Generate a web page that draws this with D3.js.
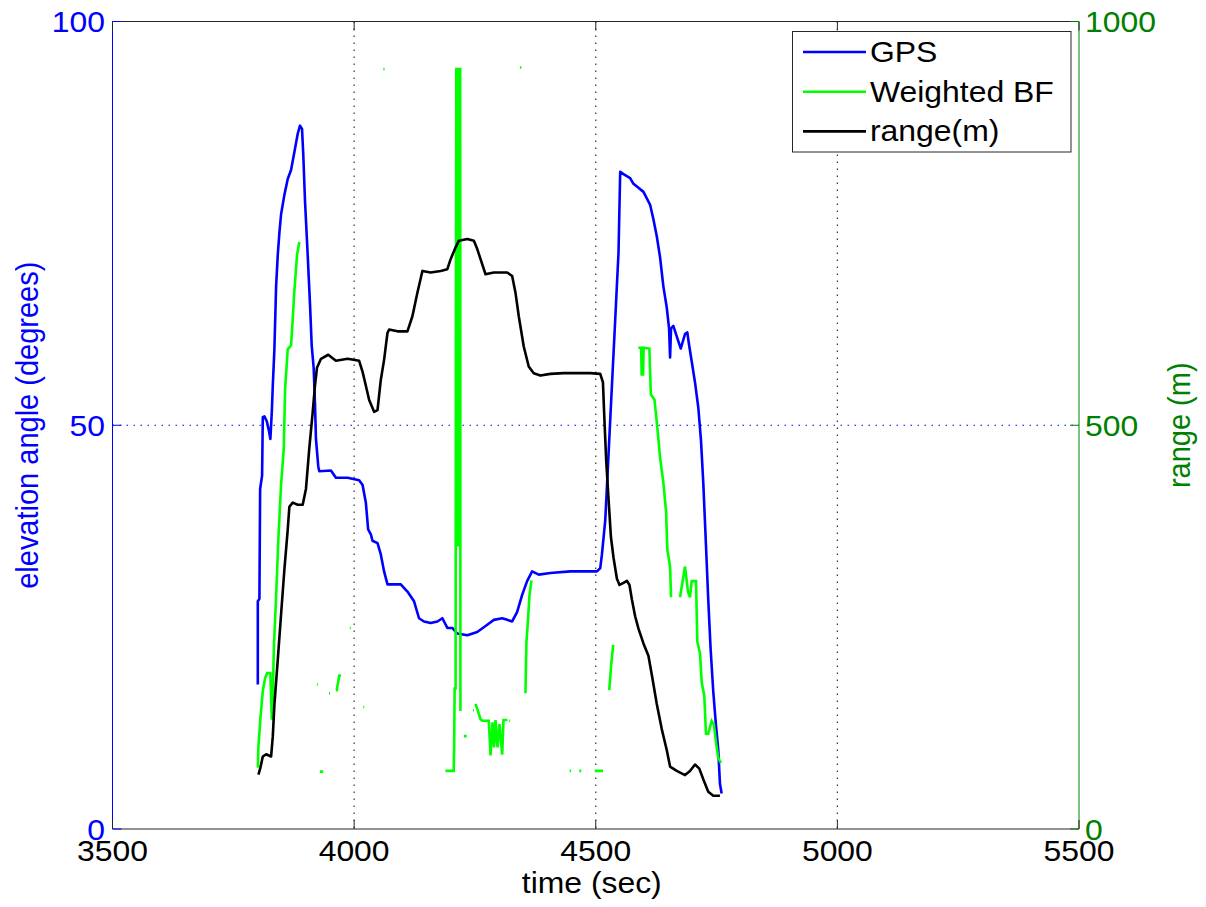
<!DOCTYPE html>
<html>
<head>
<meta charset="utf-8">
<script src="https://cdn.jsdelivr.net/npm/d3@7"></script>
<style>
  html, body { margin: 0; padding: 0; background: #fff; }
  svg { display: block; }
  text { font-family: "Liberation Sans", Arial, sans-serif; }
</style>
</head>
<body>
<svg id="chart" width="1206" height="907"></svg>
<script>
// ---------------- DATA ----------------
const xTicks = [3500, 4000, 4500, 5000, 5500];
const leftTicks = [0, 50, 100];
const rightTicks = [0, 500, 1000];
const xGrid = [4000, 4500, 5000];
const leftGrid = [50];

// GPS elevation (degrees)
const gpsTime = [3800.7, 3800.7, 3804, 3805.5, 3809.6, 3811, 3814.3, 3819.3, 3823.4, 3826.7, 3829.6, 3831.7, 3835, 3838.5, 3842, 3845.3, 3848.8, 3855.6, 3862.6, 3869.5, 3876.3, 3883.3, 3888, 3892.2, 3894.8, 3898.4, 3903.9, 3908.7, 3912.2, 3916.3, 3919, 3921, 3925.8, 3927.9, 3952, 3962.3, 3986.5, 4010.4, 4017.5, 4024.3, 4029, 4034.6, 4038, 4048.4, 4055.2, 4062, 4069, 4082.7, 4096.5, 4110.3, 4124, 4134.3, 4144.6, 4158.4, 4172.3, 4182.6, 4192.9, 4203.2, 4213.5, 4234.2, 4254.8, 4275.5, 4289.1, 4306.4, 4316.7, 4327, 4337.4, 4347.7, 4358, 4368.3, 4382, 4406.1, 4447.4, 4481.9, 4502.5, 4509.3, 4512.8, 4519.6, 4523.1, 4529.9, 4540.3, 4547.1, 4550.6, 4557.4, 4571.2, 4578, 4588.4, 4598.7, 4605.7, 4612.5, 4619.3, 4626.3, 4633.1, 4639.9, 4646.9, 4651.7, 4653.8, 4655.8, 4660.6, 4667.6, 4675.9, 4684.7, 4689.5, 4693, 4698.6, 4705.4, 4712.2, 4717.8, 4722.5, 4728.1, 4732.8, 4737.8, 4743.2, 4748.7, 4753.5, 4757, 4760.5];
const gpsElev = [17.9, 28.2, 28.5, 42.1, 43.8, 51.0, 51.1, 50.5, 49.4, 48.3, 51.6, 54.9, 59.4, 67.1, 71.1, 73.8, 76.1, 78.5, 80.5, 81.6, 83.8, 86.1, 87.1, 86.7, 83.5, 77.7, 71.1, 65.0, 59.9, 57.1, 52.7, 48.3, 44.9, 44.3, 44.4, 43.5, 43.5, 43.2, 42.6, 40.4, 37.1, 36.5, 35.7, 35.4, 34.0, 31.9, 30.3, 30.3, 30.3, 29.4, 28.2, 26.1, 25.7, 25.5, 25.7, 26.1, 24.9, 24.9, 24.2, 24.0, 24.4, 25.3, 25.9, 26.1, 25.9, 25.7, 26.9, 29.0, 30.7, 31.9, 31.5, 31.7, 31.9, 31.9, 31.9, 32.3, 34.0, 38.2, 42.3, 50.6, 63.1, 71.4, 81.4, 81.1, 80.6, 79.9, 79.4, 78.9, 78.1, 77.3, 75.5, 73.4, 70.8, 67.2, 64.6, 62.0, 58.4, 62.0, 62.3, 61.0, 59.5, 61.3, 61.5, 60.0, 57.9, 55.3, 52.2, 48.1, 42.9, 35.1, 28.4, 22.2, 17.0, 12.9, 9.8, 5.6, 4.4];

// range (m)
const rangeTime = [3802, 3806.1, 3811, 3817.9, 3828.2, 3831.7, 3835, 3842, 3848.8, 3855.6, 3862.6, 3866, 3873, 3883.3, 3893.6, 3900.4, 3907.2, 3914.2, 3919, 3923.1, 3931.4, 3946.4, 3962.3, 3986.5, 4010.4, 4017.5, 4024.3, 4031.1, 4041.4, 4048.4, 4055.2, 4062, 4069, 4072.4, 4089.7, 4110.3, 4120.6, 4130.9, 4141.3, 4158.4, 4179.1, 4192.9, 4199.7, 4210, 4216.8, 4234.2, 4247.8, 4254.8, 4261.6, 4271.9, 4289.1, 4316.7, 4327, 4333.9, 4340.7, 4351, 4361.3, 4371.6, 4385.5, 4406.1, 4433.6, 4461.2, 4488.7, 4509.3, 4514.9, 4517.6, 4521.7, 4526.5, 4531.4, 4536.8, 4543.8, 4549.2, 4557.4, 4564.4, 4569.8, 4574.8, 4581.5, 4588.4, 4598.7, 4609, 4616, 4626.3, 4636.6, 4646.9, 4653.8, 4667.6, 4684.7, 4695, 4705.4, 4714.3, 4722.5, 4732.8, 4743.2, 4757];
const rangeVal = [67.3, 76, 89.8, 92.5, 89.8, 114.7, 153.7, 209.5, 265.6, 320.7, 370.8, 399, 404.2, 401.5, 401.5, 421.4, 471.3, 515.6, 549, 571.1, 582.3, 587.3, 579.8, 582.3, 579.8, 566.1, 549, 531.2, 516.6, 518.7, 556.1, 581, 614.3, 618.5, 616.3, 616.3, 635, 664.2, 691.1, 689.2, 691.1, 693.3, 705.7, 720.3, 728.6, 730.7, 728.6, 718.2, 705.7, 687, 689.2, 689.2, 684.9, 664.2, 635, 597.6, 572.7, 564.5, 561.5, 563.6, 564.5, 564.5, 564.5, 563.6, 553.1, 511.7, 455.1, 408.4, 361.6, 335.9, 310, 302.2, 304.9, 307.4, 302.2, 284.3, 263.5, 248.1, 229.8, 214.5, 191, 154.7, 123.7, 97.9, 77.3, 71.9, 66.8, 71.9, 79.8, 74.8, 61.6, 46.1, 41.1, 41.1];

// Weighted BF elevation (degrees); null = gap in the estimate
const bfTime = [3800.7, 3802, 3806.1, 3811, 3815.8, 3819.9, 3826.7, 3829.6, 3831, 3833.7, 3838.5, 3843.3, 3848.8, 3854.4, 3857.1, 3862.6, 3869.5, 3873, 3876.3, 3881.9, 3886.6, null,
  3923, 3925, null, 3929, 3936, null, 3948, 3950, null,
  3962.3, 3964, 3969.2, 3972.6, null, 3991, 3993, null, 4019, 4021, null, 4060.5, 4063, null,
  4189, 4206, 4207, 4208, 4210, 4210.5, 4211.5, 4213, 4213.5, 4214.5, 4215.5, 4216.5, 4217.5, 4218, 4219.5, 4220, null,
  4227, 4233, null, 4246, 4248, null,
  4251.3, 4261.6, 4265.1, 4278.7, 4282.3, 4286.4, 4289.5, 4292.6, 4296.7, 4300.8, 4306.4, 4309.1, 4317.3, null,
  4321, 4323, null, 4343, 4346, null,
  4354.5, 4356.6, 4359.6, 4362.7, 4366.9, null,
  4446, 4449, null, 4466, 4470, null, 4498, 4515, null,
  4527.9, 4532, 4536.1, null,
  4588, 4594, 4595, 4598, 4599, 4611, 4614, 4621.4, 4625, 4628.4, 4633.1, 4639.9, 4645.5, 4648.2, 4653.8, 4655.8, null,
  4674.4, 4684.7, 4690.9, 4695, 4698.6, 4707.5, 4710.2, 4715.8, 4719.3, 4724.6, 4728.1, 4732.8, 4739.8, 4744.6, 4748.7, 4753.5, 4759];
const bfElev = [7.6, 10.3, 13.7, 17.1, 18.7, 19.3, 19.3, 13.7, 13.7, 22.1, 28.7, 36.0, 42.6, 47.1, 54.4, 59.4, 59.9, 63.2, 66.6, 71.1, 72.7, null,
  17.9, 17.9, null, 7.1, 7.1, null, 16.8, 16.8, null,
  17.2, 17.2, 19.0, 19.0, null, 24.9, 24.9, null, 15.1, 15.1, null, 94.1, 94.1, null,
  7.2, 7.2, 10.2, 17.4, 17.4, 56, 94.1, 94.1, 35, 57, 40, 52, 35, 94.1, 94.1, 14.6, null,
  11.5, 11.5, null, 14.7, 14.7, null,
  15.5, 13.6, 13.4, 13.4, 9.1, 13.2, 10.1, 13.5, 10.1, 13.0, 9.2, 13.5, 13.5, null,
  13.4, 13.4, null, 94.3, 94.3, null,
  16.8, 23.2, 25.7, 28.8, 30.8, null,
  7.2, 7.2, null, 7.2, 7.2, null, 7.2, 7.2, null,
  17.2, 20.4, 22.8, null,
  59.6, 59.6, 56.3, 56.3, 59.6, 59.5, 53.8, 53.2, 51.2, 49.1, 46.0, 42.9, 39.3, 34.6, 32.5, 28.7, null,
  28.7, 32.5, 29.4, 28.7, 30.7, 30.7, 23.2, 21.7, 18.1, 16.5, 11.8, 11.8, 13.4, 12.9, 10.8, 8.8, 8.2];

const legendLabels = ["GPS", "Weighted BF", "range(m)"];

// ---------------- LAYOUT ----------------
const L = 112.5, R = 1079, T = 21.5, B = 829;
const BLUE = "#0000ff", GREEN = "#00ff00", DKGREEN = "#008000", AX = "#262626";
const FS = 29, SX = 1.1;

const svg = d3.select("#chart");
const x = d3.scaleLinear().domain([3500, 5500]).range([L, R]);
const yL = d3.scaleLinear().domain([0, 100]).range([B, T]);
const yR = d3.scaleLinear().domain([0, 1000]).range([B, T]);

function stxt(g, px, py, str, anchor, color, rot) {
  const grp = g.append("g").attr("transform", `translate(${px},${py})` + (rot ? ` rotate(${rot})` : "") + (rot ? ` scale(1,${SX})` : ` scale(${SX},1)`));
  grp.append("text").attr("x", 0).attr("y", 0).attr("text-anchor", anchor)
    .attr("font-size", FS).attr("fill", color).text(str);
  return grp;
}

// grids
const grid = svg.append("g");
grid.selectAll(".vg").data(xGrid).enter().append("line")
  .attr("x1", d => x(d)).attr("x2", d => x(d)).attr("y1", T).attr("y2", B)
  .attr("stroke", "#333").attr("stroke-width", 1.2).attr("stroke-dasharray", "1.5,5.5");
grid.selectAll(".hg").data(leftGrid).enter().append("line")
  .attr("x1", L).attr("x2", R).attr("y1", d => yL(d)).attr("y2", d => yL(d))
  .attr("stroke", BLUE).attr("stroke-width", 1.2).attr("stroke-dasharray", "1.5,5.5");

// lines
const clip = svg.append("defs").append("clipPath").attr("id", "clip")
  .append("rect").attr("x", L).attr("y", T).attr("width", R - L).attr("height", B - T);
const plot = svg.append("g").attr("clip-path", "url(#clip)");

const gpsData = gpsTime.map((t, i) => [t, gpsElev[i]]);
const rangeData = rangeTime.map((t, i) => [t, rangeVal[i]]);
const bfData = bfTime.map((t, i) => (t === null ? null : [t, bfElev[i]]));

const lineL = d3.line().defined(d => d !== null).x(d => x(d[0])).y(d => yL(d[1]));
const lineR = d3.line().x(d => x(d[0])).y(d => yR(d[1]));

plot.append("path").datum(gpsData).attr("d", lineL).attr("fill", "none")
  .attr("stroke", BLUE).attr("stroke-width", 2.6).attr("stroke-linejoin", "round");
plot.append("path").datum(bfData).attr("d", lineL).attr("fill", "none")
  .attr("stroke", GREEN).attr("stroke-width", 2.6).attr("stroke-linejoin", "miter");
plot.append("path").datum(rangeData).attr("d", lineR).attr("fill", "none")
  .attr("stroke", "#000").attr("stroke-width", 2.6).attr("stroke-linejoin", "round");

// axes frame
const ax = svg.append("g");
ax.append("line").attr("x1", L).attr("x2", R).attr("y1", T).attr("y2", T).attr("stroke", AX).attr("stroke-width", 1);
ax.append("line").attr("x1", L).attr("x2", R).attr("y1", B).attr("y2", B).attr("stroke", AX).attr("stroke-width", 1);
ax.append("line").attr("x1", L).attr("x2", L).attr("y1", T).attr("y2", B).attr("stroke", BLUE).attr("stroke-width", 1);
ax.append("line").attr("x1", R).attr("x2", R).attr("y1", T).attr("y2", B).attr("stroke", DKGREEN).attr("stroke-width", 1);

const TL = 9;
// x ticks (bottom & top, inward)
xTicks.forEach(v => {
  ax.append("line").attr("x1", x(v)).attr("x2", x(v)).attr("y1", B).attr("y2", B - TL).attr("stroke", AX);
  ax.append("line").attr("x1", x(v)).attr("x2", x(v)).attr("y1", T).attr("y2", T + TL).attr("stroke", AX);
  stxt(ax, x(v), 860.5, String(v), "middle", "#000");
});
// left ticks
leftTicks.forEach(v => {
  ax.append("line").attr("x1", L).attr("x2", L + TL).attr("y1", yL(v)).attr("y2", yL(v)).attr("stroke", BLUE);
  stxt(ax, 105, yL(v) + 10.5, String(v), "end", BLUE);
});
// right ticks
rightTicks.forEach(v => {
  ax.append("line").attr("x1", R).attr("x2", R - TL).attr("y1", yR(v)).attr("y2", yR(v)).attr("stroke", DKGREEN);
  stxt(ax, 1085, yR(v) + 10.5, String(v), "start", DKGREEN);
});

// axis labels
stxt(ax, (L + R) / 2 - 4, 893, "time (sec)", "middle", "#000");
stxt(ax, 38, (T + B) / 2, "elevation angle (degrees)", "middle", BLUE, -90);
stxt(ax, 1190, (T + B) / 2, "range (m)", "middle", DKGREEN, -90);

// legend
const lg = svg.append("g");
lg.append("rect").attr("x", 792.5).attr("y", 31.5).attr("width", 278.5).attr("height", 120.5)
  .attr("fill", "#fff").attr("stroke", AX).attr("stroke-width", 1);
const legColors = [BLUE, GREEN, "#000"];
legendLabels.forEach((lab, i) => {
  const base = 62 + i * 39.7;
  lg.append("line").attr("x1", 803).attr("x2", 866).attr("y1", base - 10).attr("y2", base - 10)
    .attr("stroke", legColors[i]).attr("stroke-width", 2.6);
  stxt(lg, 870, base, lab, "start", "#000");
});
</script>
</body>
</html>
